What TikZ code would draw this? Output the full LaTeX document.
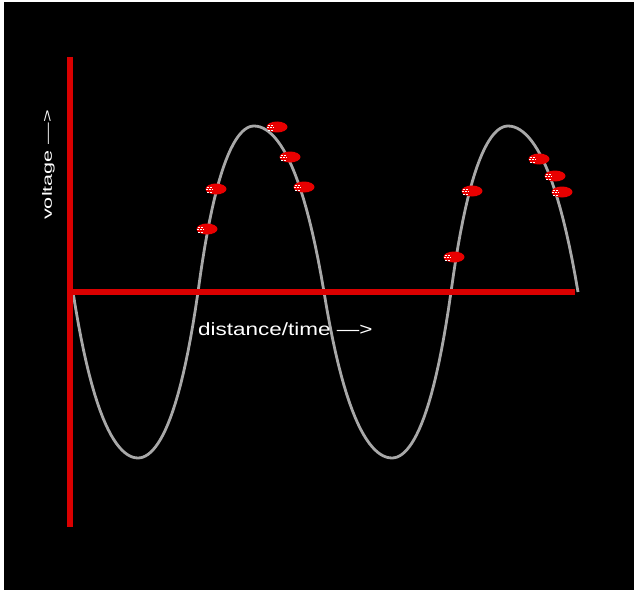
\documentclass[tikz,border=0pt]{standalone}
\usepackage{fontspec}
\setmainfont{Liberation Sans}
\definecolor{axisRed}{RGB}{218,0,0}
\definecolor{blobRed}{RGB}{232,0,0}
\definecolor{waveGrey}{RGB}{168,168,168}

\begin{document}
\begin{tikzpicture}[
  x=1pt, y=-1pt,
  axis/.style={draw=axisRed, line width=6.5pt},
  wave/.style={draw=waveGrey, line width=2.8pt, line join=round},
  axislabel/.style={white, inner sep=0pt, font=\fontsize{17.7}{20}\selectfont},
]
% Pixel grid: 638 x 594, y grows downwards
\def\zeroY{292}      % height of the time axis
\def\amp{166}        % wave amplitude
\useasboundingbox (0,0) rectangle (638,594);
\fill[white] (0,0) rectangle (638,594);
\fill[black] (4,2) rectangle (634,590);

% Wave: one quarter per entry, x runs from \xa to \xb, phase starts at \ta
\draw[wave] (73,\zeroY)
  \foreach \xa/\xb/\ta in {73/138/180, 138/198/270, 198/254/360, 254/324/450,
                           324/392/540, 392/451/630, 451/508/720, 508/578/810} {
    -- plot[domain=0:90, samples=25]
       ({\xa+(\xb-\xa)*\x/90}, {\zeroY-\amp*1.6*sin(\ta+\x)/(1+0.6*abs(sin(\ta+\x)))})
  };

% Axes
\coordinate (vtop) at (70,57);
\coordinate (vbot) at (70,527);
\coordinate (origin) at (70,\zeroY);
\coordinate (hend) at (575,\zeroY);
\draw[axis] (vtop) -- (vbot);
\draw[axis] (origin) -- (hend);

% Charges riding on the wave
\foreach \bx/\by in {207/229, 216/189, 277/127, 290/157, 304/187,
                     454/257, 472/191, 539/159, 555/176, 562/192} {
  \fill[blobRed] (\bx,\by) ellipse [x radius=10.5pt, y radius=5.5pt];
  \draw[white, line width=0.7pt, dash pattern=on 1.5pt off 1.5pt]
    (\bx-9,\by-2) -- ++(6,0) (\bx-10,\by+0.5) -- ++(7,0) (\bx-9,\by+3) -- ++(6,0);
}

% Axis labels
\node[axislabel, anchor=base west] (xlabel) at (198,335)
  {\scalebox{1.27}[1]{distance/time —>}};
\node[axislabel, anchor=base west, rotate=90, font=\fontsize{13.5}{16}\selectfont]
  (ylabel) at (52,220) {\scalebox{1.6}[1]{voltage —>}};

\end{tikzpicture}
\end{document}
